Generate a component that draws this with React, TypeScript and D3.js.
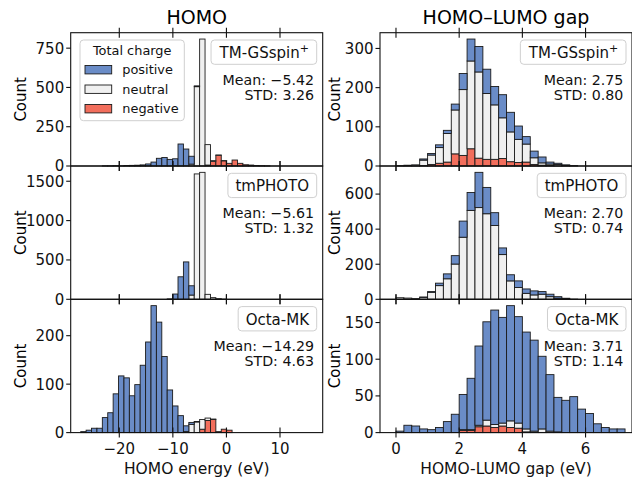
import React, { useEffect, useRef } from "react";
import * as d3 from "d3";

// bin edges: HOMO column and gap column
const homoStart = -27.2;
const homoWidth = 1.009;
const gapStart = 0;
const gapWidth = 0.25;

// HOMO energy counts per bin (38 bins)
const homoGsPos = [0, 0, 0, 0, 1, 1, 2, 1, 3, 4, 5, 7, 13, 25, 49, 54, 42, 46, 140, 108, 50, 5, 0, 0, 0, 0, 0, 0, 0, 0, 0, 0, 0, 0, 0, 0, 0, 0];
const homoGsNeu = [0, 0, 0, 0, 0, 0, 0, 0, 0, 0, 0, 0, 0, 0, 0, 0, 0, 0, 0, 0, 12, 505, 808, 130, 4, 2, 1, 0, 0, 0, 0, 0, 0, 0, 0, 0, 0, 0];
const homoGsNeg = [0, 0, 0, 0, 0, 0, 0, 0, 0, 0, 0, 0, 0, 0, 0, 0, 0, 0, 0, 0, 0, 0, 0, 6, 30, 68, 33, 17, 38, 17, 8, 6, 3, 2, 1, 0, 0, 0];

const homoPhotoPos = [0, 0, 0, 0, 0, 0, 0, 0, 0, 0, 0, 0, 0, 0, 0, 0, 5, 67, 286, 475, 118, 0, 0, 0, 0, 0, 0, 0, 0, 0, 0, 0, 0, 0, 0, 0, 0, 0];
const homoPhotoNeu = [0, 0, 0, 0, 0, 0, 0, 0, 0, 0, 0, 0, 0, 0, 0, 0, 0, 0, 0, 0, 54, 1593, 1613, 63, 21, 8, 2, 0, 0, 0, 0, 0, 0, 0, 0, 0, 0, 0];
const homoPhotoNeg = [0, 0, 0, 0, 0, 0, 0, 0, 0, 0, 0, 0, 0, 0, 0, 0, 0, 0, 0, 0, 0, 0, 0, 0, 0, 0, 0, 0, 0, 0, 0, 0, 0, 0, 0, 0, 0, 0];

const homoOctaPos = [2, 5, 9, 9, 31, 41, 80, 117, 113, 76, 99, 139, 187, 262, 228, 157, 88, 55, 35, 12, 4, 1, 0, 0, 0, 0, 0, 0, 0, 0, 0, 0, 0, 0, 0, 0, 0, 0];
const homoOctaNeu = [0, 0, 0, 0, 0, 0, 0, 0, 0, 0, 0, 0, 0, 0, 0, 0, 0, 0, 0, 2, 17, 22, 20, 5, 1, 0, 0, 0, 0, 0, 0, 0, 0, 0, 0, 0, 0, 0];
const homoOctaNeg = [0, 0, 0, 0, 0, 0, 0, 0, 0, 0, 0, 0, 0, 0, 0, 0, 0, 0, 0, 0, 0, 0, 7, 25, 27, 2, 7, 5, 0, 0, 0, 0, 0, 0, 0, 0, 0, 0];

// HOMO-LUMO gap counts per bin (29 bins)
const gapGsPos = [0, 0, 0, 3, 4, 7, 8, 15, 41, 56, 65, 62, 47, 59, 50, 34, 19, 17, 15, 5, 3, 2, 1, 0, 0, 0, 0, 0, 0];
const gapGsNeu = [1, 2, 3, 14, 24, 40, 73, 112, 168, 224, 220, 168, 139, 104, 76, 59, 46, 17, 6, 4, 4, 1, 0, 0, 0, 0, 0, 0, 0];
const gapGsNeg = [0, 0, 0, 1, 4, 7, 10, 31, 27, 44, 20, 17, 17, 19, 11, 9, 10, 4, 2, 1, 0, 0, 0, 0, 0, 0, 0, 0, 0];

const gapPhotoPos = [0, 0, 0, 2, 4, 14, 28, 48, 92, 102, 201, 150, 73, 38, 35, 38, 25, 23, 15, 14, 9, 4, 1, 0, 0, 0, 0, 0, 0];
const gapPhotoNeu = [9, 7, 4, 11, 40, 78, 117, 201, 354, 507, 523, 488, 421, 255, 105, 67, 34, 25, 29, 15, 6, 2, 0, 0, 0, 0, 0, 0, 0];
const gapPhotoNeg = [0, 0, 0, 0, 0, 0, 0, 0, 0, 0, 0, 0, 0, 0, 0, 0, 0, 0, 0, 0, 0, 0, 0, 0, 0, 0, 0, 0, 0];

const gapOctaPos = [2, 10, 9, 5, 4, 7, 15, 25, 48, 70, 108, 134, 156, 144, 157, 145, 132, 124, 99, 77, 47, 44, 49, 32, 26, 12, 7, 5, 5];
const gapOctaNeu = [0, 0, 0, 0, 0, 0, 0, 0, 1, 1, 2, 8, 4, 4, 9, 7, 4, 2, 5, 2, 1, 0, 0, 0, 0, 0, 0, 0, 0];
const gapOctaNeg = [0, 0, 0, 0, 0, 0, 0, 0, 3, 3, 8, 9, 7, 9, 7, 6, 1, 0, 0, 0, 0, 0, 0, 0, 0, 0, 0, 0, 0];

// dataset names as [base, superscript]
const datasets = [["TM-GSspin", "+"], ["tmPHOTO", ""], ["Octa-MK", ""]];
const homoMeans = ["−5.42", "−5.61", "−14.29"];
const homoStds = ["3.26", "1.32", "4.63"];
const gapMeans = ["2.75", "2.70", "3.71"];
const gapStds = ["0.80", "0.74", "1.14"];

const homoYTicks = [[0, 250, 500, 750], [0, 500, 1000, 1500], [0, 100, 200]];
const gapYTicks = [[0, 100, 200, 300], [0, 200, 400, 600], [0, 50, 100, 150]];
const homoXTicks = [-20, -10, 0, 10];
const gapXTicks = [0, 2, 4, 6];

const charges = ["positive", "neutral", "negative"];
const colors: Record<string, string> = { positive: "#6a8cc7", neutral: "#f0f0f0", negative: "#f26e5c" };

const W = 632;
const H = 479;
const FONT = "DejaVu Sans";

export default function App() {
  const ref = useRef<SVGSVGElement>(null);

  useEffect(() => {
    const svg = d3.select(ref.current);
    svg.selectAll("*").remove();

    const colX = [70.7, 380];
    const colW = 252;
    const rowY = [32.7, 166, 299.3];
    const rowH = 133.3;

    const columns = [
      {
        title: "HOMO", xlabel: "HOMO energy (eV)", domain: [-29.07, 17.97], start: homoStart, width: homoWidth,
        xticks: homoXTicks, yticks: homoYTicks, means: homoMeans, stds: homoStds,
        data: [[homoGsPos, homoGsNeu, homoGsNeg], [homoPhotoPos, homoPhotoNeu, homoPhotoNeg], [homoOctaPos, homoOctaNeu, homoOctaNeg]],
        ylabX: 26,
      },
      {
        title: "HOMO–LUMO gap", xlabel: "HOMO-LUMO gap (eV)", domain: [-0.506, 7.47], start: gapStart, width: gapWidth,
        xticks: gapXTicks, yticks: gapYTicks, means: gapMeans, stds: gapStds,
        data: [[gapGsPos, gapGsNeu, gapGsNeg], [gapPhotoPos, gapPhotoNeu, gapPhotoNeg], [gapOctaPos, gapOctaNeu, gapOctaNeg]],
        ylabX: 339.5,
      },
    ];

    svg.append("rect").attr("width", W).attr("height", H).attr("fill", "#fff");

    columns.forEach((col, ci) => {
      const x0 = colX[ci];
      const x = d3.scaleLinear().domain(col.domain).range([x0, x0 + colW]);

      svg.append("text")
        .attr("x", x0 + colW / 2).attr("y", 23.5)
        .attr("text-anchor", "middle")
        .attr("font-family", FONT).attr("font-size", 19)
        .text(col.title);

      col.data.forEach((series, ri) => {
        const y0 = rowY[ri];
        const [pos, neu, neg] = series;
        const rows = pos.map((_, i) => ({
          i, negative: neg[i], neutral: neu[i], positive: pos[i],
        }));
        const stack = d3.stack<any>().keys(["negative", "neutral", "positive"])(rows);
        const maxTotal = d3.max(rows, (r) => r.negative + r.neutral + r.positive) as number;
        const y = d3.scaleLinear().domain([0, maxTotal * 1.05]).range([y0 + rowH, y0]);

        const g = svg.append("g");
        stack.forEach((layer) => {
          g.selectAll(null)
            .data(layer.filter((d) => d[1] - d[0] > 0))
            .enter()
            .append("rect")
            .attr("x", (d) => x(col.start + d.data.i * col.width))
            .attr("width", (d) => x(col.start + (d.data.i + 1) * col.width) - x(col.start + d.data.i * col.width))
            .attr("y", (d) => y(d[1]))
            .attr("height", (d) => y(d[0]) - y(d[1]))
            .attr("fill", colors[layer.key])
            .attr("stroke", "#1b1b1b")
            .attr("stroke-width", 0.9);
        });

        // spines
        svg.append("rect")
          .attr("x", x0).attr("y", y0).attr("width", colW).attr("height", rowH)
          .attr("fill", "none").attr("stroke", "#111").attr("stroke-width", 1.1);

        // x ticks (top and bottom, in/out)
        [y0, y0 + rowH].forEach((yy) => {
          svg.selectAll(null).data(col.xticks).enter().append("line")
            .attr("x1", (d) => x(d)).attr("x2", (d) => x(d))
            .attr("y1", yy - 5).attr("y2", yy + 5)
            .attr("stroke", "#111").attr("stroke-width", 1.1);
        });

        // y ticks and labels
        const yt = col.yticks[ri];
        svg.selectAll(null).data(yt).enter().append("line")
          .attr("x1", x0 - 4.5).attr("x2", x0)
          .attr("y1", (d) => y(d)).attr("y2", (d) => y(d))
          .attr("stroke", "#111").attr("stroke-width", 1.1);
        svg.selectAll(null).data(yt).enter().append("text")
          .attr("x", x0 - 6.5).attr("y", (d) => y(d) + 5.4)
          .attr("text-anchor", "end")
          .attr("font-family", FONT).attr("font-size", 15)
          .attr("fill", "#111")
          .text((d) => String(d));

        // y label
        svg.append("text")
          .attr("transform", `translate(${col.ylabX},${y0 + rowH / 2}) rotate(-90)`)
          .attr("text-anchor", "middle")
          .attr("font-family", FONT).attr("font-size", 15)
          .text("Count");

        // dataset label box
        const right = x0 + colW;
        const [base, sup] = datasets[ri];
        const lab = svg.append("text")
          .attr("x", right - 13.7).attr("y", y0 + 25.2)
          .attr("text-anchor", "end")
          .attr("font-family", FONT).attr("font-size", 15)
          .attr("fill", "#111");
        lab.append("tspan").text(base);
        if (sup) {
          lab.append("tspan").attr("dy", -6).attr("font-size", 11).text(sup);
        }
        const bb = (lab.node() as SVGTextElement).getBBox();
        svg.insert("rect", () => lab.node() as any)
          .attr("x", bb.x - 7.5).attr("y", y0 + 7.3)
          .attr("width", right - 6 - (bb.x - 7.5)).attr("height", 24.3)
          .attr("rx", 3.5)
          .attr("fill", "#fff").attr("fill-opacity", 0.8)
          .attr("stroke", "#cfcfcf").attr("stroke-width", 1);

        // stats
        svg.append("text")
          .attr("x", right - 8.7).attr("y", y0 + 52)
          .attr("text-anchor", "end")
          .attr("font-family", FONT).attr("font-size", 14.2)
          .attr("fill", "#111")
          .text(`Mean: ${col.means[ri]}`);
        svg.append("text")
          .attr("x", right - 8.7).attr("y", y0 + 67)
          .attr("text-anchor", "end")
          .attr("font-family", FONT).attr("font-size", 14.2)
          .attr("fill", "#111")
          .text(`STD: ${col.stds[ri]}`);

        if (ri === 2) {
          svg.selectAll(null).data(col.xticks).enter().append("text")
            .attr("x", (d) => x(d)).attr("y", y0 + rowH + 21.8)
            .attr("text-anchor", "middle")
            .attr("font-family", FONT).attr("font-size", 15)
            .attr("fill", "#111")
            .text((d) => (d < 0 ? "−" + Math.abs(d) : String(d)));
          svg.append("text")
            .attr("x", x0 + colW / 2).attr("y", 473.5)
            .attr("text-anchor", "middle")
            .attr("font-family", FONT).attr("font-size", 15.5)
            .attr("fill", "#111")
            .text(col.xlabel);
        }

        // legend in the first panel
        if (ci === 0 && ri === 0) {
          const lx = x0 + 9.3;
          const ly = y0 + 7.3;
          const lg = svg.append("g");
          lg.append("rect")
            .attr("x", lx).attr("y", ly).attr("width", 104.3).attr("height", 80.7)
            .attr("rx", 3.5)
            .attr("fill", "#fff").attr("fill-opacity", 0.8)
            .attr("stroke", "#cfcfcf");
          lg.append("text")
            .attr("x", lx + 52.2).attr("y", ly + 15.3)
            .attr("text-anchor", "middle")
            .attr("font-family", FONT).attr("font-size", 12.9)
            .attr("fill", "#111")
            .text("Total charge");
          charges.forEach((c, k) => {
            const cy = ly + 29.7 + k * 19.5;
            lg.append("rect")
              .attr("x", lx + 5).attr("y", cy - 4.2).attr("width", 26.7).attr("height", 8.4)
              .attr("fill", colors[c]).attr("stroke", "#1b1b1b").attr("stroke-width", 0.9);
            lg.append("text")
              .attr("x", lx + 42.3).attr("y", cy + 4.6)
              .attr("font-family", FONT).attr("font-size", 12.9)
              .attr("fill", "#111")
              .text(c);
          });
        }
      });
    });
  }, []);

  return (
    <svg
      ref={ref}
      width={W}
      height={H}
      style={{ position: "absolute", left: 0, top: 0, display: "block" }}
    />
  );
}
